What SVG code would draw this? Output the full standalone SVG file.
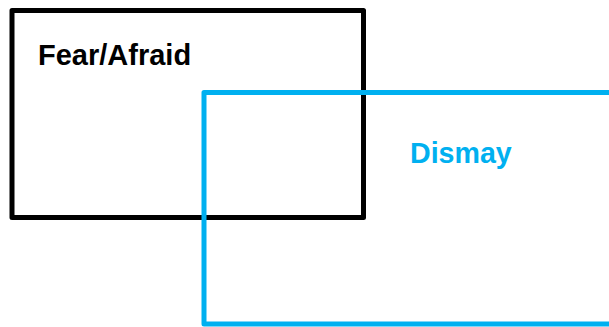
<svg xmlns="http://www.w3.org/2000/svg" width="609" height="327" viewBox="0 0 609 327">
<style>
.box{fill:none;stroke-width:5;stroke-linejoin:round}
.lbl{font-family:"Liberation Sans",Arial,sans-serif;font-weight:bold}
</style>
<rect width="609" height="327" fill="#fff"/>
<g id="fear">
<rect class="box" x="12" y="10.5" width="351.5" height="207" stroke="#000"/>
<text class="lbl" x="38" y="65" font-size="29" fill="#000">Fear/Afraid</text>
</g>
<g id="dismay">
<rect class="box" x="204" y="92.5" width="420" height="231.5" stroke="#00B0F0"/>
<text class="lbl" x="410" y="163" font-size="28.6" fill="#00B0F0">Dismay</text>
</g>
<g id="connectors"/>
</svg>
